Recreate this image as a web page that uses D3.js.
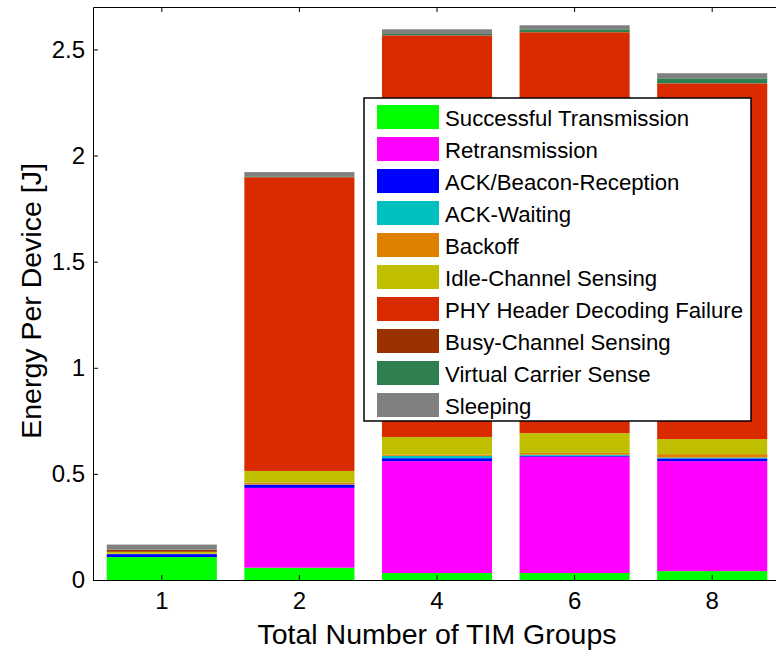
<!DOCTYPE html>
<html>
<head>
<meta charset="utf-8">
<script src="https://cdn.jsdelivr.net/npm/d3@7"></script>
<style>
  body { margin: 0; background: #fff; }
  svg { display: block; font-family: "Liberation Sans", Arial, sans-serif; }
  .axis path, .axis line { stroke: #000; }
  .axis text { fill: #000; font-size: 24px; font-family: "Liberation Sans", Arial, sans-serif; }
</style>
</head>
<body>
<svg width="776" height="651"></svg>
<script>
// data
var categories = ["1", "2", "4", "6", "8"];
var seriesNames = ["Successful Transmission", "Retransmission", "ACK/Beacon-Reception", "ACK-Waiting",
  "Backoff", "Idle-Channel Sensing", "PHY Header Decoding Failure", "Busy-Channel Sensing",
  "Virtual Carrier Sense", "Sleeping"];
var successful = [0.108, 0.058, 0.033, 0.033, 0.042];
var retransmission = [0, 0.376, 0.527, 0.548, 0.518];
var ackBeacon = [0.014, 0.015, 0.014, 0.004, 0.013];
var ackWaiting = [0.001, 0.001, 0.011, 0.005, 0.004];
var backoff = [0.001, 0.009, 0.006, 0.009, 0.016];
var idleSensing = [0.009, 0.055, 0.083, 0.093, 0.071];
var phyFailure = [0, 1.383, 1.891, 1.888, 1.675];
var busySensing = [0.009, 0.002, 0.002, 0.002, 0.002];
var virtualCarrier = [0.001, 0.003, 0.006, 0.013, 0.023];
var sleeping = [0.024, 0.02, 0.022, 0.019, 0.024];
var yTicks = [0, 0.5, 1, 1.5, 2, 2.5];
var yTickLabels = ["0", "0.5", "1", "1.5", "2", "2.5"];
var colors = ["#00ff00", "#ff00ff", "#0000ff", "#00bfbf", "#df7f00", "#bfbf00",
  "#d92a00", "#9b3000", "#2f8050", "#808080"];

var allSeries = [successful, retransmission, ackBeacon, ackWaiting, backoff, idleSensing,
  phyFailure, busySensing, virtualCarrier, sleeping];

// table for d3.stack
var table = categories.map(function(c, i) {
  var row = {cat: c};
  seriesNames.forEach(function(n, k) { row[n] = allSeries[k][i]; });
  return row;
});

var svg = d3.select("svg"),
    plotLeft = 93, plotRight = 781, plotTop = 7, plotBottom = 580;

var x = d3.scaleBand().domain(categories).range([plotLeft, plotRight]).paddingInner(0.2).paddingOuter(0.1),
    y = d3.scaleLinear().domain([0, 2.7]).range([plotBottom, plotTop]),
    color = d3.scaleOrdinal().domain(seriesNames).range(colors);

var stacked = d3.stack().keys(seriesNames)(table);

svg.append("g").selectAll("g")
  .data(stacked)
  .enter().append("g")
    .attr("fill", function(d) { return color(d.key); })
  .selectAll("rect")
  .data(function(d) { return d; })
  .enter().append("rect")
    .attr("x", function(d) { return x(d.data.cat); })
    .attr("y", function(d) { return y(d[1]); })
    .attr("width", x.bandwidth())
    .attr("height", function(d) { return y(d[0]) - y(d[1]); });

// axes, ticks pointing inward like matlab
svg.append("g")
    .attr("class", "axis")
    .attr("transform", "translate(" + plotLeft + ",0)")
    .call(d3.axisLeft(y).tickValues(yTicks).tickFormat(function(d, i) { return yTickLabels[i]; })
      .tickSizeInner(-5).tickSizeOuter(0).tickPadding(8));

svg.append("g")
    .attr("class", "axis")
    .attr("transform", "translate(" + plotRight + ",0)")
    .call(d3.axisRight(y).tickValues(yTicks).tickFormat("").tickSizeInner(-5).tickSizeOuter(0));

svg.append("g")
    .attr("class", "axis")
    .attr("transform", "translate(0," + plotBottom + ")")
    .call(d3.axisBottom(x).tickSizeInner(-5).tickSizeOuter(0).tickPadding(12));

svg.append("g")
    .attr("class", "axis")
    .attr("transform", "translate(0," + plotTop + ")")
    .call(d3.axisTop(x).tickFormat("").tickSizeInner(-5).tickSizeOuter(0));

svg.append("text")
    .attr("x", (plotLeft + plotRight) / 2)
    .attr("y", 644)
    .attr("text-anchor", "middle")
    .style("font-size", "28.5px")
    .text("Total Number of TIM Groups");

svg.append("text")
    .attr("transform", "rotate(-90)")
    .attr("x", -301)
    .attr("y", 41)
    .attr("text-anchor", "middle")
    .style("font-size", "28.5px")
    .text("Energy Per Device [J]");

// legend
var legend = svg.append("g");
legend.append("rect")
    .attr("x", 364).attr("y", 98)
    .attr("width", 387).attr("height", 323)
    .attr("fill", "#fff").attr("stroke", "#000").attr("stroke-width", 1.5);

var item = legend.selectAll(".item")
  .data(seriesNames)
  .enter().append("g")
    .attr("class", "item")
    .attr("transform", function(d, i) { return "translate(377," + (105 + 32 * i) + ")"; });

item.append("rect")
    .attr("width", 62).attr("height", 24)
    .attr("fill", function(d) { return color(d); });

item.append("text")
    .attr("x", 68).attr("y", 13).attr("dy", "0.35em")
    .style("font-size", "22.2px")
    .text(function(d) { return d; });
</script>
</body>
</html>
